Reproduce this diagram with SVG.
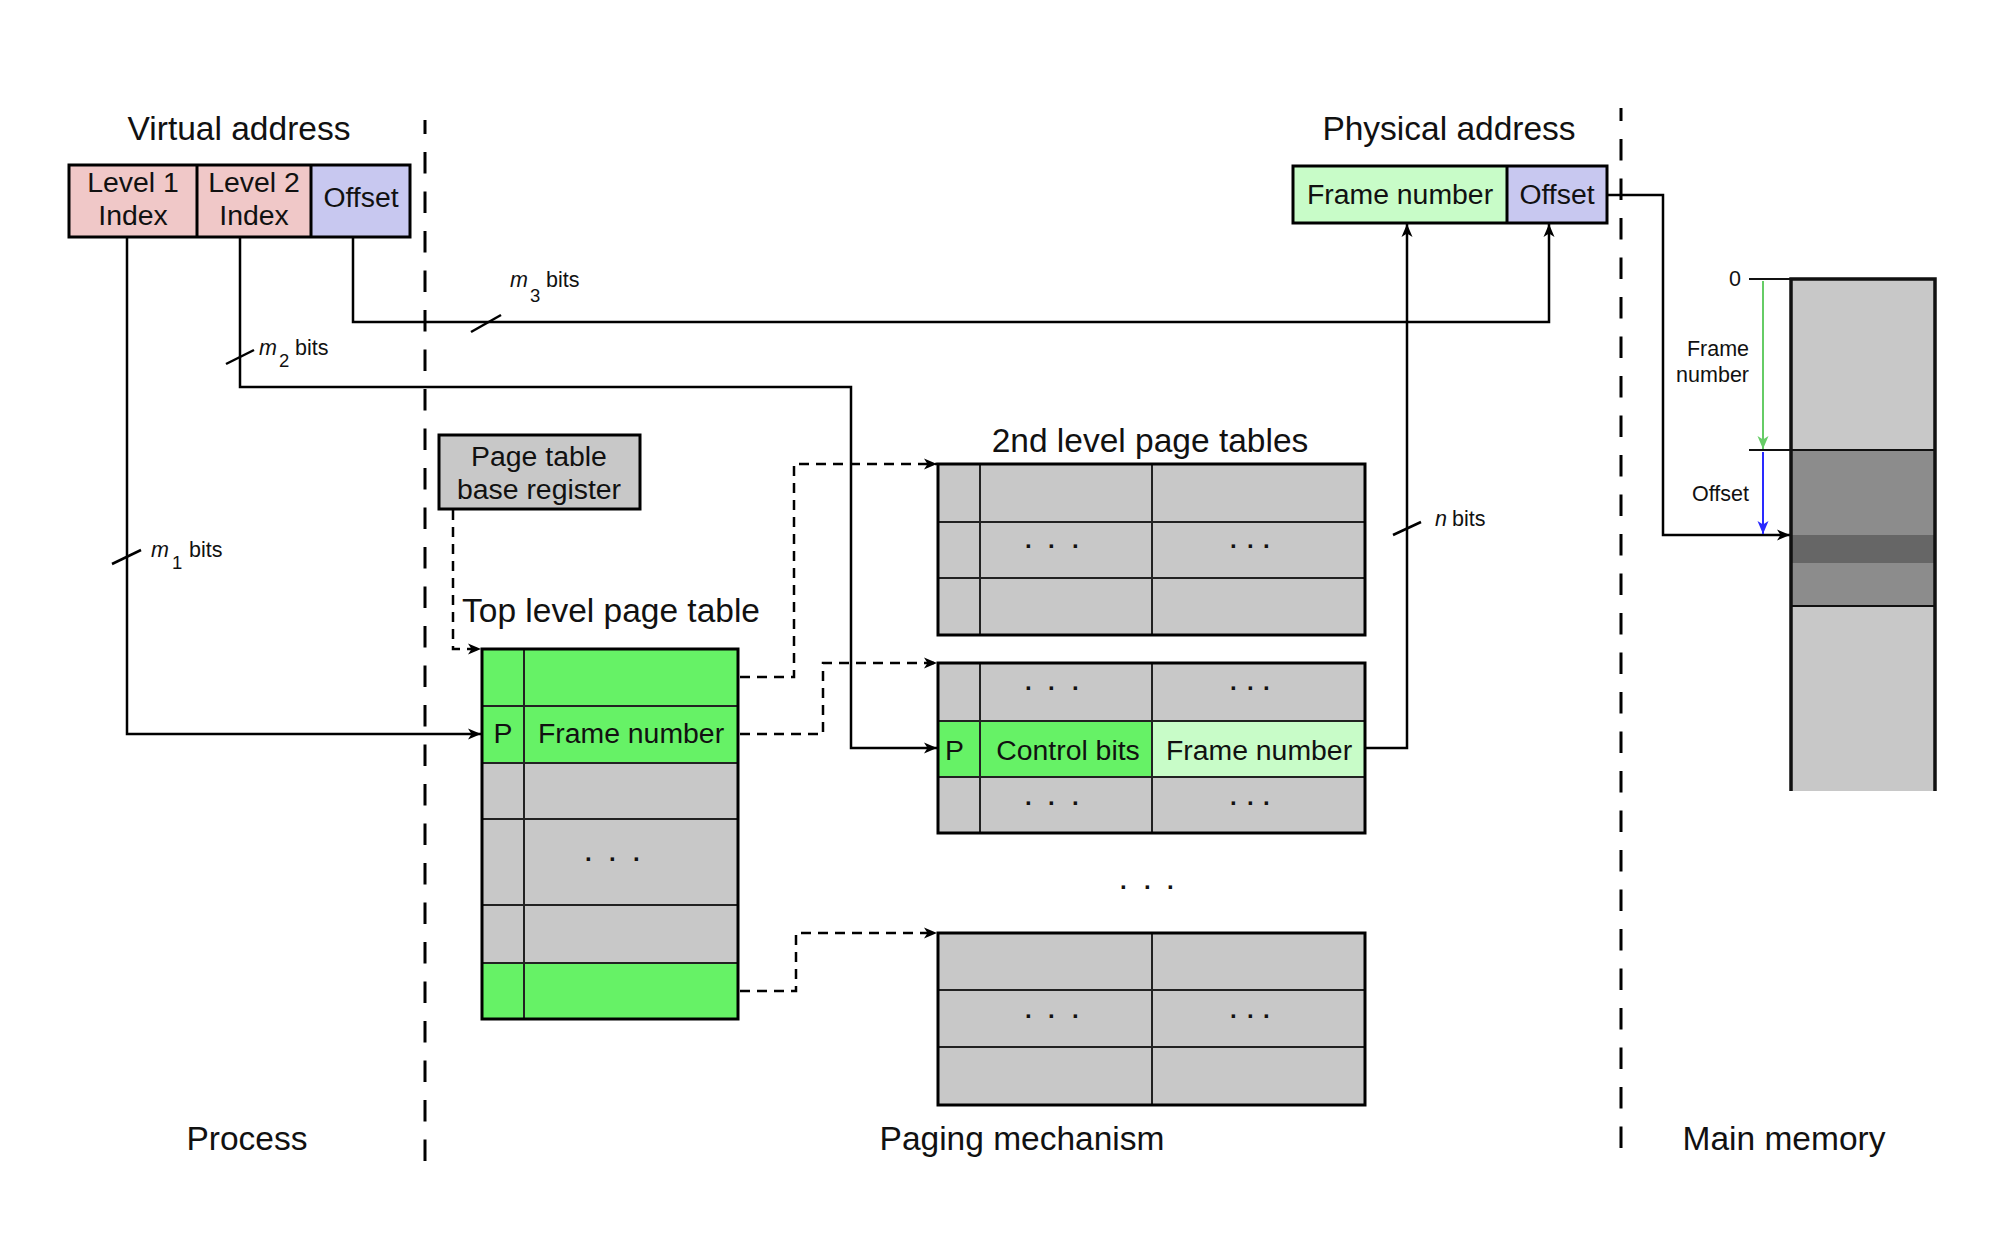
<svg xmlns="http://www.w3.org/2000/svg" width="2000" height="1241" viewBox="0 0 2000 1241">
  <style>
    text { font-family: "Liberation Sans", Arial, sans-serif; fill: #111; }
    .t32 { font-size: 33.5px; }
    .t28 { font-size: 28.4px; }
    .t20 { font-size: 21.5px; }
    .mid { text-anchor: middle; }
    .end { text-anchor: end; }
    .it { font-style: italic; }
    .sub { font-size: 18.5px; }
    .dots { font-size: 24px; font-weight: bold; }
    .box { stroke: #000; stroke-width: 3; }
    .grid { stroke: #222; stroke-width: 2; fill: none; }
    .pink { fill: #f0c8c8; }
    .lav { fill: #c8c8f0; }
    .lgreen { fill: #c8fcc8; }
    .green { fill: #66f266; }
    .gray { fill: #c8c8c8; }
    .wire { fill: none; stroke: #000; stroke-width: 2.5; }
    .dash { fill: none; stroke: #000; stroke-width: 2.5; stroke-dasharray: 10 7; }
    .sep { fill: none; stroke: #000; stroke-width: 3; stroke-dasharray: 21.5 18; }
  </style>
  <defs>
    <marker id="ah" markerWidth="14" markerHeight="12" refX="13" refY="6" orient="auto" markerUnits="userSpaceOnUse">
      <path d="M0,0.5 L13,6 L0,11.5 L3.5,6 Z" fill="#000"/>
    </marker>
    <marker id="ahg" markerWidth="14" markerHeight="12" refX="13" refY="6" orient="auto" markerUnits="userSpaceOnUse">
      <path d="M0,0.5 L13,6 L0,11.5 L3.5,6 Z" fill="#66cc66"/>
    </marker>
    <marker id="ahb" markerWidth="14" markerHeight="12" refX="13" refY="6" orient="auto" markerUnits="userSpaceOnUse">
      <path d="M0,0.5 L13,6 L0,11.5 L3.5,6 Z" fill="#2a2aff"/>
    </marker>
  </defs>
  <rect width="2000" height="1241" fill="#fff"/>

  <!-- region separators (drawn bottom-up so the last dash lands at the bottom) -->
  <g id="separators">
    <path class="sep" d="M425 1161 V120"/>
    <path class="sep" d="M1621 1148 V108"/>
  </g>

  <!-- region labels -->
  <g id="region-labels">
    <text class="t32 mid" x="247" y="1150">Process</text>
    <text class="t32 mid" x="1022" y="1150">Paging mechanism</text>
    <text class="t32 mid" x="1784" y="1150">Main memory</text>
  </g>

  <!-- connectors -->
  <g id="connectors">
    <path class="wire" d="M127 237 V734 H481" marker-end="url(#ah)"/>
    <path class="wire" d="M240 237 V387 H851 V748 H937" marker-end="url(#ah)"/>
    <path class="wire" d="M353 237 V322 H1549 V224" marker-end="url(#ah)"/>
    <path class="wire" d="M1365 748 H1407 V224" marker-end="url(#ah)"/>
    <path class="wire" d="M1607 195 H1663 V535 H1790" marker-end="url(#ah)"/>
    <path class="dash" d="M453 510 V649 H481" marker-end="url(#ah)"/>
    <path class="dash" d="M740 677 H794 V464 H937" marker-end="url(#ah)"/>
    <path class="dash" d="M740 734 H823 V663 H937" marker-end="url(#ah)"/>
    <path class="dash" d="M740 991 H796 V933 H937" marker-end="url(#ah)"/>
    <!-- bus width ticks -->
    <path class="wire" d="M112 564 L141 550"/>
    <path class="wire" d="M226 364 L254 350"/>
    <path class="wire" d="M471 332 L501 315"/>
    <path class="wire" d="M1393 535 L1421 522"/>
    <text class="t20"><tspan class="it" x="151" y="557">m</tspan><tspan class="sub" x="172" y="569">1</tspan><tspan x="189" y="557">bits</tspan></text>
    <text class="t20"><tspan class="it" x="259" y="355">m</tspan><tspan class="sub" x="279" y="367">2</tspan><tspan x="295" y="355">bits</tspan></text>
    <text class="t20"><tspan class="it" x="510" y="287">m</tspan><tspan class="sub" x="530" y="302">3</tspan><tspan x="546" y="287">bits</tspan></text>
    <text class="t20"><tspan class="it" x="1435" y="526">n</tspan><tspan x="1452" y="526">bits</tspan></text>
  </g>

  <!-- virtual address -->
  <g id="virtual-address">
    <text class="t32 mid" x="239" y="140">Virtual address</text>
    <rect class="pink" x="69" y="165" width="128" height="72"/>
    <rect class="pink" x="197" y="165" width="114" height="72"/>
    <rect class="lav" x="311" y="165" width="99" height="72"/>
    <rect class="box" x="69" y="165" width="341" height="72" fill="none"/>
    <path class="box" d="M197 165 V237 M311 165 V237"/>
    <text class="t28 mid" x="133" y="192">Level 1</text>
    <text class="t28 mid" x="133" y="225">Index</text>
    <text class="t28 mid" x="254" y="192">Level 2</text>
    <text class="t28 mid" x="254" y="225">Index</text>
    <text class="t28 mid" x="361" y="207">Offset</text>
  </g>

  <!-- physical address -->
  <g id="physical-address">
    <text class="t32 mid" x="1449" y="140">Physical address</text>
    <rect class="lgreen" x="1293" y="166" width="214" height="57"/>
    <rect class="lav" x="1507" y="166" width="100" height="57"/>
    <rect class="box" x="1293" y="166" width="314" height="57" fill="none"/>
    <path class="box" d="M1507 166 V223"/>
    <text class="t28 mid" x="1400" y="204">Frame number</text>
    <text class="t28 mid" x="1557" y="204">Offset</text>
  </g>

  <!-- page table base register -->
  <g id="ptbr">
    <rect class="box gray" x="439" y="435" width="201" height="74"/>
    <text class="t28 mid" x="539" y="466">Page table</text>
    <text class="t28 mid" x="539" y="499">base register</text>
  </g>

  <!-- top level page table -->
  <g id="top-level-table">
    <text class="t32" x="462" y="622">Top level page table</text>
    <rect class="green" x="482" y="649" width="256" height="114"/>
    <rect class="gray" x="482" y="763" width="256" height="200"/>
    <rect class="green" x="482" y="963" width="256" height="56"/>
    <path class="grid" d="M524 649 V1019 M482 706 H738 M482 763 H738 M482 819 H738 M482 905 H738 M482 963 H738"/>
    <rect class="box" x="482" y="649" width="256" height="370" fill="none"/>
    <text class="t28 mid" x="503" y="743">P</text>
    <text class="t28 mid" x="631" y="743">Frame number</text>
    <text class="dots" x="585 609 633" y="861">...</text>
  </g>

  <!-- second level page tables -->
  <g id="second-level-table-1">
    <text class="t32 mid" x="1150" y="452">2nd level page tables</text>
    <rect class="gray" x="938" y="464" width="427" height="171"/>
    <path class="grid" d="M980 464 V635 M1152 464 V635 M938 522 H1365 M938 578 H1365"/>
    <rect class="box" x="938" y="464" width="427" height="171" fill="none"/>
    <text class="dots" x="1025 1048 1072" y="548">...</text>
    <text class="dots" x="1230 1247 1263" y="548">...</text>
  </g>

  <g id="second-level-table-2">
    <rect class="gray" x="938" y="663" width="427" height="170"/>
    <rect class="green" x="938" y="721" width="214" height="56"/>
    <rect class="lgreen" x="1152" y="721" width="213" height="56"/>
    <path class="grid" d="M980 663 V833 M1152 663 V833 M938 721 H1365 M938 777 H1365"/>
    <rect class="box" x="938" y="663" width="427" height="170" fill="none"/>
    <text class="t28" x="945" y="760">P</text>
    <text class="t28 mid" x="1068" y="760">Control bits</text>
    <text class="t28 mid" x="1259" y="760">Frame number</text>
    <text class="dots" x="1025 1048 1072" y="690">...</text>
    <text class="dots" x="1230 1247 1263" y="690">...</text>
    <text class="dots" x="1025 1048 1072" y="805">...</text>
    <text class="dots" x="1230 1247 1263" y="805">...</text>
  </g>

  <text class="dots" x="1120 1144 1167" y="889">...</text>

  <g id="second-level-table-3">
    <rect class="gray" x="938" y="933" width="427" height="172"/>
    <path class="grid" d="M1152 933 V1105 M938 990 H1365 M938 1047 H1365"/>
    <rect class="box" x="938" y="933" width="427" height="172" fill="none"/>
    <text class="dots" x="1025 1048 1072" y="1018">...</text>
    <text class="dots" x="1230 1247 1263" y="1018">...</text>
  </g>

  <!-- main memory -->
  <g id="main-memory">
    <rect x="1791" y="279" width="144" height="512" fill="#c8c8c8"/>
    <rect x="1791" y="450" width="144" height="156" fill="#8c8c8c"/>
    <rect x="1791" y="535" width="144" height="28" fill="#666"/>
    <path d="M1749 279 H1791 M1749 450 H1935 M1791 606 H1935" stroke="#111" stroke-width="2" fill="none"/>
    <path d="M1791 791 V279 H1935 V791" stroke="#111" stroke-width="3.5" fill="none"/>
    <path d="M1763 281 V449" stroke="#66cc66" stroke-width="2" fill="none" marker-end="url(#ahg)"/>
    <path d="M1763 452 V534" stroke="#2a2aff" stroke-width="2" fill="none" marker-end="url(#ahb)"/>
    <text class="t20 end" x="1741" y="286">0</text>
    <text class="t20 end" x="1749" y="356">Frame</text>
    <text class="t20 end" x="1749" y="382">number</text>
    <text class="t20 end" x="1749" y="501">Offset</text>
  </g>
</svg>
